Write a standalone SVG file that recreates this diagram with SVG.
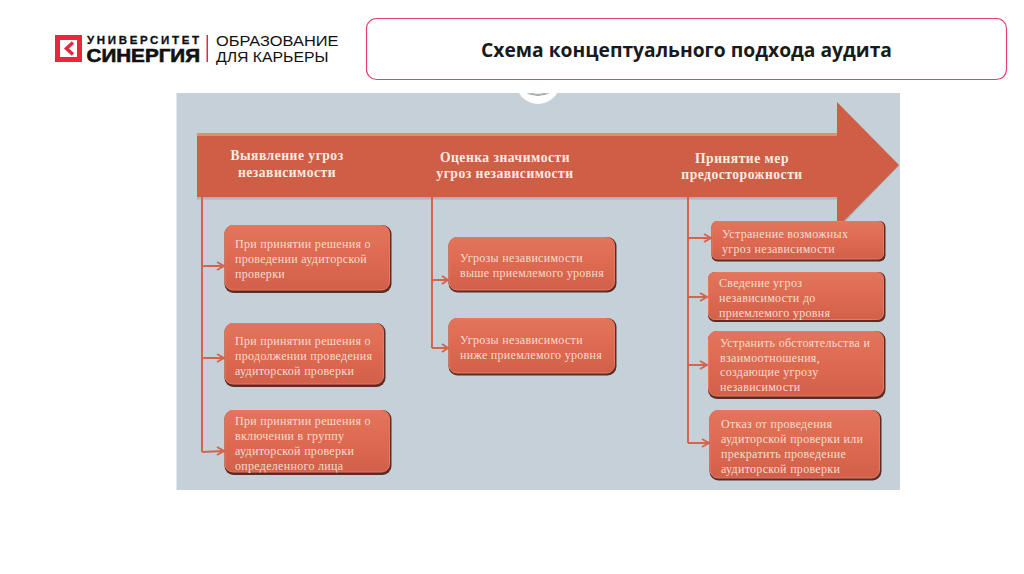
<svg xmlns="http://www.w3.org/2000/svg" width="1024" height="574" viewBox="0 0 1024 574">
<style>
.b{fill:url(#bf);stroke:#e8785e;stroke-width:1}
.s{fill:#5d2c24}
.t{font-family:"Liberation Serif",serif;font-size:12px;fill:#f6dccf;letter-spacing:.3px}
.h{font-family:"Liberation Serif",serif;font-size:13.600px;font-weight:bold;fill:#f9ebe3;text-anchor:middle;letter-spacing:.5px}
.c{fill:none;stroke:#d4654c;stroke-width:2}
.a{fill:none;stroke:#d4654c;stroke-width:2}
.l{font-family:"Liberation Sans",sans-serif;fill:#111}
</style>
<defs>
<linearGradient id="bf" x1="0" y1="0" x2="0" y2="1">
<stop offset="0" stop-color="#e2755b"/><stop offset=".5" stop-color="#dd6a50"/><stop offset="1" stop-color="#d2604a"/>
</linearGradient>
<clipPath id="pc"><rect x="176" y="93" width="724" height="397"/></clipPath>
</defs>
<rect width="1024" height="574" fill="#fff"/>
<g id="logo">
<rect x="55" y="35" width="27" height="27" fill="#e6283f"/>
<rect x="60" y="40" width="17" height="17" fill="#fff"/>
<path d="M73 42.500L66.500 48.500L73 54.500" fill="none" stroke="#e6283f" stroke-width="3.500"/>
<text class="l" x="87" y="43.500" font-size="11.500" font-weight="bold" stroke="#111" stroke-width=".3" textLength="112" lengthAdjust="spacing">УНИВЕРСИТЕТ</text>
<text class="l" x="86.500" y="62" font-size="17.800" font-weight="bold" stroke="#111" stroke-width=".6" textLength="113.500" lengthAdjust="spacingAndGlyphs">СИНЕРГИЯ</text>
<rect x="206.500" y="35" width="1.500" height="27" fill="#e6283f"/>
<text class="l" x="216" y="46" font-size="15.500" textLength="122.500" lengthAdjust="spacingAndGlyphs" fill="#222">ОБРАЗОВАНИЕ</text>
<text class="l" x="216" y="62" font-size="15.500" textLength="112.500" lengthAdjust="spacingAndGlyphs" fill="#222">ДЛЯ КАРЬЕРЫ</text>
</g>
<g id="title">
<rect x="366.500" y="18.500" width="640" height="61" rx="10" fill="#fff" stroke="#e3416f" stroke-width="1.200"/>
<text x="686.500" y="57" text-anchor="middle" font-family="'Open Sans','Liberation Sans',sans-serif" font-size="19.500" font-weight="bold" fill="#1a1a1a" textLength="411" lengthAdjust="spacingAndGlyphs">Схема концептуального подхода аудита</text>
</g>
<g id="panel">
<rect x="176.500" y="93" width="723.500" height="397" fill="#c5d0d8"/>
<g clip-path="url(#pc)">
<circle cx="538" cy="82" r="22" fill="#fff"/>
<path d="M522 90Q538 101 554 90M526 91Q538 98 550 91" fill="none" stroke="#9aa5ac" stroke-width="1"/>
</g>
</g>
<g id="main-arrow">
<path d="M197 198.500H837V229L899 165L837 102V133H197Z" fill="#aab8b4" transform="translate(0 1)"/>
<path d="M197 133H837V102L899 165L837 228V197H197Z" fill="#cf5e46"/>
<path d="M197 133H837V136H197Z" fill="#e58a72"/>
<text class="h" x="287" y="160">Выявление угроз</text>
<text class="h" x="287" y="177">независимости</text>
<text class="h" x="505" y="162">Оценка значимости</text>
<text class="h" x="505" y="178">угроз независимости</text>
<text class="h" x="742" y="163">Принятие мер</text>
<text class="h" x="742" y="179">предосторожности</text>
</g>
<g id="connectors">
<path class="c" d="M202 197V452M432 197V348M688 197V443"/>
<path class="a" d="M202 266H224M217 262L224 266L217 270"/>
<path class="a" d="M202 358H224M217 354L224 358L217 362"/>
<path class="a" d="M202 452L224 451M217 447L224 451L217 455"/>
<path class="a" d="M432 280H448M442 276L448 280L442 284"/>
<path class="a" d="M432 348H448M442 344L448 348L442 352"/>
<path class="a" d="M688 238H711M704 234L711 238L704 242"/>
<path class="a" d="M688 297H707M700 293L707 297L700 301"/>
<path class="a" d="M688 365H707M700 361L707 365L700 369"/>
<path class="a" d="M688 443H709M702 439L709 443L702 447"/>
</g>
<g id="n1"><rect class="s" x="224.500" y="225" width="167" height="68" rx="9"/><rect class="b" x="225" y="225.500" width="164.500" height="64.500" rx="8"/>
<text class="t" x="235" y="248">При принятии решения о</text><text class="t" x="235" y="263">проведении аудиторской</text><text class="t" x="235" y="278">проверки</text></g>
<g id="n2"><rect class="s" x="224.500" y="323" width="161" height="64" rx="9"/><rect class="b" x="225" y="323.500" width="158.500" height="60.500" rx="8"/>
<text class="t" x="235" y="345">При принятии решения о</text><text class="t" x="235" y="360">продолжении проведения</text><text class="t" x="235" y="375">аудиторской проверки</text></g>
<g id="n3"><rect class="s" x="224.500" y="410" width="167" height="65" rx="9"/><rect class="b" x="225" y="410.500" width="164.500" height="61.500" rx="8"/>
<text class="t" x="235" y="425">При принятии решения о</text><text class="t" x="235" y="440">включении в группу</text><text class="t" x="235" y="455">аудиторской проверки</text><text class="t" x="235" y="470">определенного лица</text></g>
<g id="n4"><rect class="s" x="448.500" y="237" width="168" height="55.500" rx="9"/><rect class="b" x="449" y="237.500" width="165.500" height="52.500" rx="8"/>
<text class="t" x="460" y="262">Угрозы независимости</text><text class="t" x="460" y="277">выше приемлемого уровня</text></g>
<g id="n5"><rect class="s" x="448.500" y="318" width="168" height="57.500" rx="9"/><rect class="b" x="449" y="318.500" width="165.500" height="54.500" rx="8"/>
<text class="t" x="460" y="344">Угрозы независимости</text><text class="t" x="460" y="359">ниже приемлемого уровня</text></g>
<g id="n6"><rect class="s" x="711.500" y="221" width="174" height="40.500" rx="6"/><rect class="b" x="712" y="221.500" width="171.500" height="37.500" rx="5"/>
<text class="t" x="722" y="238">Устранение возможных</text><text class="t" x="722" y="253">угроз независимости</text></g>
<g id="n7"><rect class="s" x="708" y="272" width="177.500" height="50" rx="7"/><rect class="b" x="708.500" y="272.500" width="175" height="47" rx="6"/>
<text class="t" x="719" y="287">Сведение угроз</text><text class="t" x="719" y="302">независимости до</text><text class="t" x="719" y="317">приемлемого уровня</text></g>
<g id="n8"><rect class="s" x="708" y="331" width="177.500" height="68" rx="9"/><rect class="b" x="708.500" y="331.500" width="175" height="64.500" rx="8"/>
<text class="t" x="720" y="347">Устранить обстоятельства и</text><text class="t" x="720" y="362">взаимоотношения,</text><text class="t" x="720" y="376">создающие угрозу</text><text class="t" x="720" y="391">независимости</text></g>
<g id="n9"><rect class="s" x="709.500" y="410" width="172" height="70.500" rx="9"/><rect class="b" x="710" y="410.500" width="169.500" height="67.500" rx="8"/>
<text class="t" x="721" y="428">Отказ от проведения</text><text class="t" x="721" y="443">аудиторской проверки или</text><text class="t" x="721" y="458">прекратить проведение</text><text class="t" x="721" y="473">аудиторской проверки</text></g>
</svg>
